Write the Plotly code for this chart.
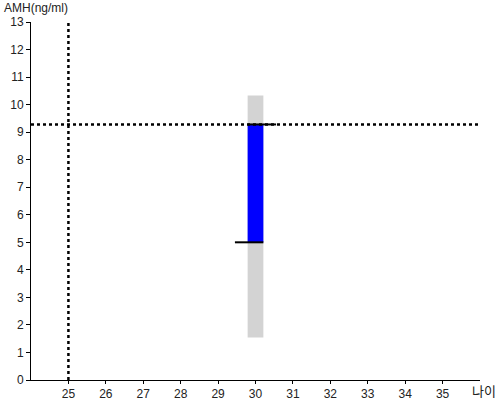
import plotly.graph_objects as go

# data
age = [30]
range_low = [1.54]
range_high = [10.33]
amh_low = [5.0]
amh_high = [9.28]
ref_age = 25
ref_amh = 9.28
x_ticks = list(range(25, 36))
y_ticks = list(range(0, 14))

bar_w = 0.42
fig = go.Figure()
fig.add_trace(go.Bar(x=age, y=[h - l for h, l in zip(range_high, range_low)], base=range_low,
                     width=bar_w, marker=dict(color="#d3d3d3", line=dict(width=0)),
                     hoverinfo="skip"))
fig.add_trace(go.Bar(x=age, y=[h - l for h, l in zip(amh_high, amh_low)], base=amh_low,
                     width=bar_w, marker=dict(color="#0000ff", line=dict(width=0)),
                     hoverinfo="skip"))
# whisker markers
fig.add_trace(go.Scatter(x=[age[0] - 0.55, age[0] + bar_w / 2], y=[amh_low[0]] * 2,
                         mode="lines", line=dict(color="black", width=2)))
fig.add_trace(go.Scatter(x=[age[0] - bar_w / 2, age[0] + 0.55], y=[amh_high[0]] * 2,
                         mode="lines", line=dict(color="black", width=2)))
# reference dotted lines
fig.add_trace(go.Scatter(x=[ref_age, ref_age], y=[0, 13], mode="lines",
                         line=dict(color="black", width=2.5, dash="dot")))
fig.add_trace(go.Scatter(x=[24, 36], y=[ref_amh, ref_amh], mode="lines",
                         line=dict(color="black", width=2.5, dash="dot")))

font = dict(family="Liberation Sans, Arial", size=12, color="#222")
fig.update_layout(
    width=500, height=400, showlegend=False, barmode="overlay",
    plot_bgcolor="white", paper_bgcolor="white",
    margin=dict(l=31, r=20, t=22, b=20, autoexpand=False),
    font=font,
    xaxis=dict(range=[24, 36], tickvals=x_ticks, showgrid=False, zeroline=False,
               showline=True, linecolor="black", linewidth=1, automargin=False,
               ticks="outside", ticklen=3, tickcolor="black", tickfont=font),
    yaxis=dict(range=[0, 13], tickvals=y_ticks, showgrid=False, zeroline=False,
               showline=True, linecolor="black", linewidth=1, automargin=False,
               ticks="outside", ticklen=4, tickcolor="black", tickfont=font),
    annotations=[
        dict(text="AMH(ng/ml)", xref="paper", yref="paper", x=-0.065, y=1.0,
             xanchor="left", yanchor="bottom", yshift=5, showarrow=False, font=font),
        dict(text="나이", xref="paper", yref="paper", x=1.04, y=0.0,
             xanchor="right", yanchor="top", yshift=1, showarrow=False,
             font=dict(family="Noto Sans CJK KR", size=13, color="#222")),
    ],
)
fig.write_html("out.html", config={"displayModeBar": False},
               post_script="document.body.style.margin='0';")
